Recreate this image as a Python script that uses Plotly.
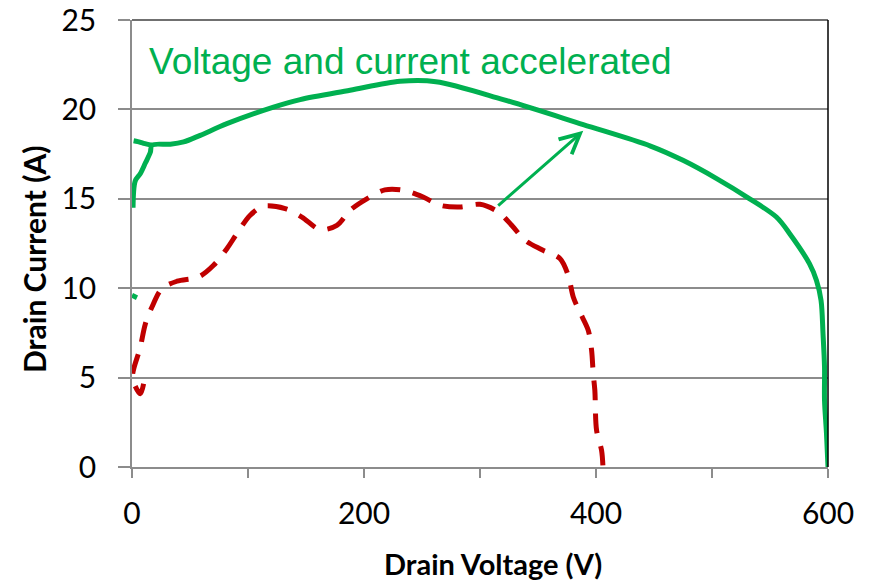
import plotly.graph_objects as go

# green: accelerated voltage and current (None = gap in the trace)
green_v = [0, 4.3, None,
           1.4, 5, 10, 17.2, None,
           0.9, 2.8, 7.1, 11.5, 15.8, 17.2, 33, 44.5, 58.8, 81.8, 122, 145, 188, 231, 262,
           320, 389, 447, 475, 504, 532.5, 555.5, 567, 584, 590, 594, 595.7, 597, 597, 598.7, 600]
green_i = [9.6, 9.47, None,
           18.25, 18.2, 18.1, 18.0, None,
           14.5, 16.0, 16.4, 17.0, 17.6, 18.0, 18.05, 18.18, 18.55, 19.2, 20.13, 20.55, 21.07, 21.57, 21.55,
           20.55, 19.15, 17.95, 17.15, 16.13, 15.0, 13.98, 13.05, 11.37, 10.44, 9.32, 7.46, 5.59, 3.73, 1.87, 0]

# red dashed: original curve
red_v = [10, 7.2, 0.5, 7.2, 11.5, 17.2, 25.8, 38.8, 57.4, 70.3, 81.8, 90.4, 101.9, 113.4, 132, 146.4,
         162.2, 176.6, 188, 202.4, 218, 234, 251, 265.5, 282.8, 300, 315.8, 327.3, 338.8, 353, 368.9,
         376, 380.4, 386, 393.3, 396.2, 397.6, 399, 400.5, 404.8, 406]
red_i = [4.66, 4.1, 5.0, 6.7, 8.0, 8.95, 9.98, 10.39, 10.63, 11.28, 12.21, 13.05, 14.08, 14.58, 14.45, 13.98,
         13.28, 13.52, 14.36, 15.0, 15.5, 15.48, 15.1, 14.64, 14.54, 14.69, 14.26, 13.52, 12.68, 12.16, 11.66,
         10.72, 9.51, 8.67, 7.65, 6.53, 5.22, 4.29, 2.05, 0.93, 0]

x_ticks = [0, 100, 200, 300, 400, 500, 600]
x_labels = ["0", "", "200", "", "400", "", "600"]
y_ticks = [0, 5, 10, 15, 20, 25]

arrow_from = (314.4, 14.54)
arrow_to = (389, 18.8)

GREEN = "#00B050"
RED = "#C00000"
GRID = "#8C8C8C"

fig = go.Figure()
fig.add_trace(go.Scatter(x=red_v, y=red_i, mode="lines", connectgaps=False,
                         line=dict(color=RED, width=5, dash="20px,13px", shape="spline", smoothing=0.9)))
fig.add_trace(go.Scatter(x=green_v, y=green_i, mode="lines", connectgaps=False,
                         line=dict(color=GREEN, width=5, shape="spline", smoothing=0.9)))

fig.add_annotation(x=arrow_to[0], y=arrow_to[1], ax=arrow_from[0], ay=arrow_from[1],
                   xref="x", yref="y", axref="x", ayref="y", text="",
                   showarrow=True, arrowhead=5, arrowsize=1.3, arrowwidth=3, arrowcolor=GREEN)

fig.add_annotation(x=12.9, y=22.7, xref="x", yref="y", xanchor="left", yanchor="middle",
                   text="Voltage and current accelerated", showarrow=False,
                   font=dict(family="Liberation Sans, Arial", size=37, color=GREEN))

fig.add_annotation(x=0.519, y=-0.217, xref="paper", yref="paper", xanchor="center", yanchor="middle",
                   text="<b>Drain Voltage (V)</b>", showarrow=False,
                   font=dict(family="Lato", size=29, color="black"))
fig.add_annotation(x=-0.141, y=0.465, xref="paper", yref="paper", xanchor="center", yanchor="middle",
                   text="<b>Drain Current (A)</b>", showarrow=False, textangle=-90,
                   font=dict(family="Lato", size=30, color="black"))

# darker top and right frame
fig.add_shape(type="line", xref="paper", yref="paper", x0=0, x1=1, y0=1, y1=1,
              line=dict(color="#404040", width=1.5))
fig.add_shape(type="line", xref="paper", yref="paper", x0=1, x1=1, y0=0, y1=1,
              line=dict(color="#000000", width=1.5))

# page body keeps an 8px margin, so the figure is a bit smaller than the window
fig.update_layout(
    width=863, height=575,
    margin=dict(l=124, r=43, t=12, b=116),
    plot_bgcolor="white", paper_bgcolor="white",
    showlegend=False,
    font=dict(family="Lato", size=30, color="black"),
)
fig.update_xaxes(range=[0, 600], tickvals=x_ticks, ticktext=x_labels, automargin=False,
                 ticklabeloverflow="allow",
                 showgrid=False, zeroline=False, showline=True, linecolor=GRID, linewidth=1.5,
                 ticks="outside", ticklen=9, tickcolor=GRID, tickwidth=1.5, ticklabelstandoff=10)
fig.update_yaxes(range=[0, 25], tickvals=y_ticks, automargin=False,
                 ticklabeloverflow="allow",
                 showgrid=True, gridcolor=GRID, gridwidth=1.5, zeroline=False,
                 showline=True, linecolor=GRID, linewidth=1.5,
                 ticks="outside", ticklen=12, tickcolor=GRID, tickwidth=1.5, ticklabelstandoff=16)

fig.write_html("out.html")
